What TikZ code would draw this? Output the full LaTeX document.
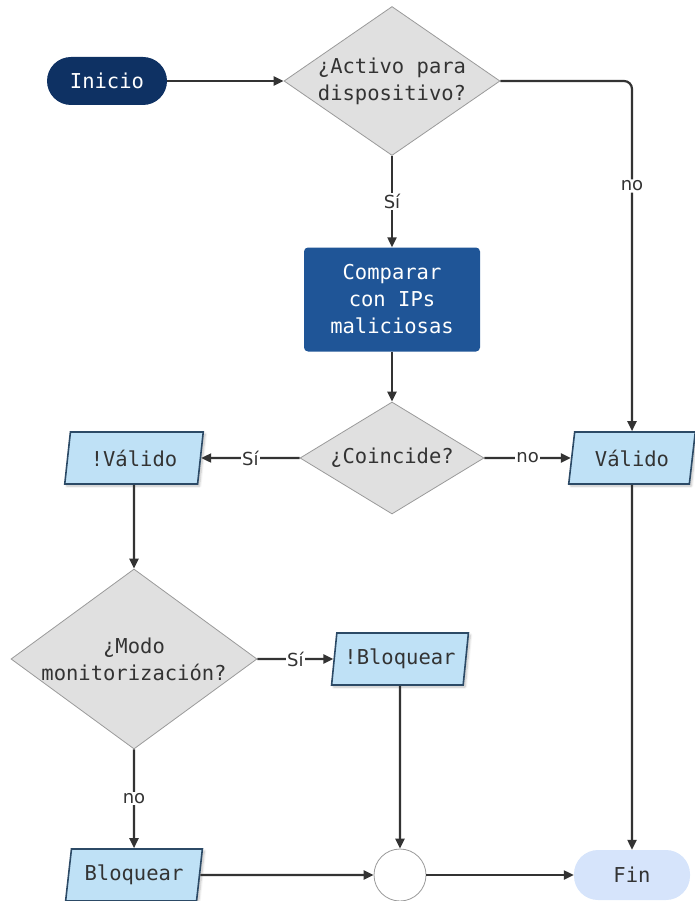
\documentclass[tikz,border=0pt]{standalone}
\usepackage{fontspec}
\setmainfont{DejaVu Sans}
\newfontfamily\boxfont{DejaVu Sans Mono}
\usetikzlibrary{shapes.geometric,arrows.meta,shadows.blur}

\definecolor{navy}{HTML}{0E3163}
\definecolor{procblue}{HTML}{1F5597}
\definecolor{diafill}{HTML}{E0E0E0}
\definecolor{diaedge}{HTML}{9A9A9A}
\definecolor{iofill}{HTML}{BFE1F6}
\definecolor{ioedge}{HTML}{2C4A66}
\definecolor{endfill}{HTML}{D6E4FB}
\definecolor{ink}{HTML}{333333}

\begin{document}
\begin{tikzpicture}[x=1pt,y=-1pt,
  boxtext/.style={font=\boxfont\fontsize{20.5}{27}\selectfont, align=center, text=ink},
  terminal/.style={boxtext, rectangle, rounded corners=24pt, inner sep=0pt,
    minimum height=48pt},
  decision/.style={boxtext, diamond, draw=diaedge, line width=0.8pt, fill=diafill, inner sep=0pt},
  process/.style={boxtext, rectangle, rounded corners=4pt, fill=procblue, text=white,
    minimum width=176pt, minimum height=104pt, inner sep=0pt},
  iobox/.style={boxtext, trapezium, trapezium left angle=77, trapezium right angle=103,
    trapezium stretches=true, draw=ioedge, line width=1.6pt, fill=iofill,
    minimum height=52pt, inner sep=0pt,
    blur shadow={shadow xshift=2pt, shadow yshift=-2pt, shadow blur steps=6, shadow opacity=25}},
  joint/.style={circle, draw=diaedge, line width=0.8pt, fill=white, minimum size=52pt, inner sep=0pt},
  flow/.style={draw=ink, line width=2.2pt, -{Triangle[length=10pt,width=9pt]}},
  lbl/.style={font=\fontsize{18}{20}\selectfont, text=ink, fill=white, inner sep=1.5pt}
]
\useasboundingbox (0,0) rectangle (695,901);

% nodes
\node[terminal, fill=navy, text=white, minimum width=120pt] (inicio) at (107,81) {Inicio};
\node[decision, aspect=1.45, minimum width=209pt, minimum height=144pt] (activo) at (392,81)
  {¿Activo para\\dispositivo?};
\node[process] (comparar) at (392,299.5) {Comparar\\con IPs\\maliciosas};
\node[decision, aspect=1.64, minimum width=184pt, minimum height=112pt] (coincide) at (392,458)
  {¿Coincide?};
\node[iobox, minimum width=139pt] (novalido) at (134,458) {!Válido};
\node[iobox, minimum width=127pt] (valido) at (632,458) {Válido};
\node[decision, aspect=1.37, minimum width=246pt, minimum height=180pt] (modo) at (134,659)
  {¿Modo\\monitorización?};
\node[iobox, minimum width=137pt] (nobloquear) at (400,659) {!Bloquear};
\node[iobox, minimum width=137pt] (bloquear) at (134,875) {Bloquear};
\node[joint] (union) at (400,875) {};
\node[terminal, fill=endfill, minimum width=116pt, minimum height=50pt] (fin) at (632,875) {Fin};

% connectors
\draw[flow] (inicio) -- (activo);
\draw[flow] (activo.south) -- node[lbl] {Sí} (comparar.north);
\draw[flow, rounded corners=8pt] (activo.east) -| node[lbl, pos=0.65] {no} (valido.north);
\draw[flow] (comparar.south) -- (coincide.north);
\draw[flow] (coincide.west) -- node[lbl] {Sí} (novalido.east);
\draw[flow] (coincide.east) -- node[lbl] {no} (valido.west);
\draw[flow] (novalido.south) -- (modo.north);
\draw[flow] (modo.east) -- node[lbl] {Sí} (nobloquear.west);
\draw[flow] (modo.south) -- node[lbl] {no} (bloquear.north);
\draw[flow] (nobloquear.south) -- (union.north);
\draw[flow] (bloquear.east) -- (union.west);
\draw[flow] (union.east) -- (fin.west);
\draw[flow] (valido.south) -- (fin.north);
\end{tikzpicture}
\end{document}
